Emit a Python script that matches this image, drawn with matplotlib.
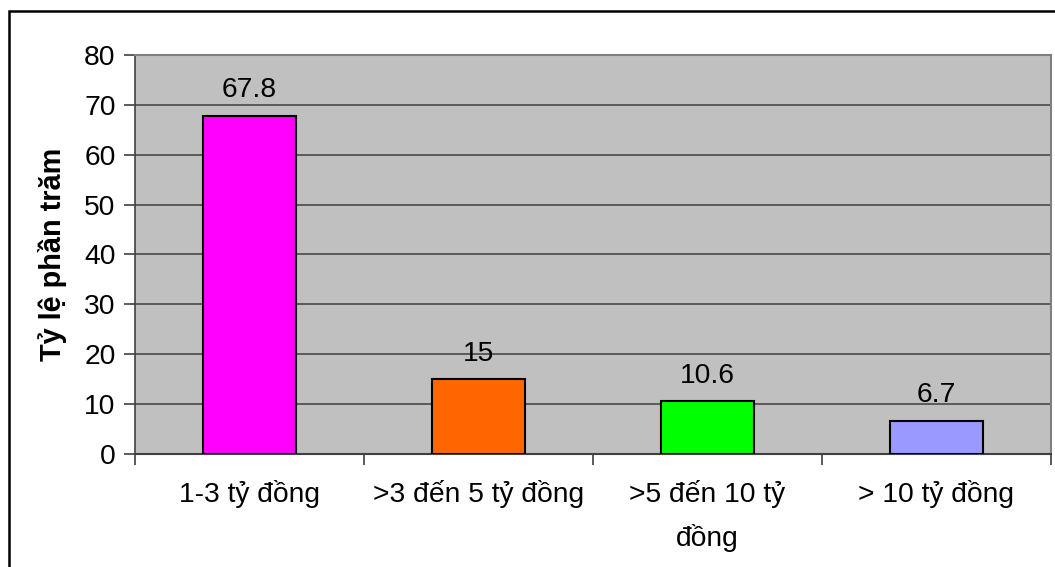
import matplotlib
matplotlib.use("Agg")
import matplotlib.pyplot as plt
from matplotlib.patches import Rectangle

categories = ["1-3 tỷ đồng", ">3 đến 5 tỷ đồng", ">5 đến 10 tỷ\nđồng", "> 10 tỷ đồng"]
values = [67.8, 15, 10.6, 6.7]
value_labels = ["67.8", "15", "10.6", "6.7"]
colors = ["#FF00FF", "#FF6600", "#00FF00", "#9999FF"]
yticks = [0, 10, 20, 30, 40, 50, 60, 70, 80]

plt.rcParams["font.family"] = ["Liberation Sans", "DejaVu Sans"]
fs = 20.3

fig = plt.figure(figsize=(10.55, 5.67), dpi=100)
ax = fig.add_axes([135 / 1055, 113 / 567, 916 / 1055, 399 / 567])
ax.set_facecolor("#C0C0C0")

x = list(range(len(categories)))
bars = ax.bar(x, values, width=0.41, color=colors, edgecolor="black", linewidth=1.5, zorder=3)

for b, lab in zip(bars, value_labels):
    ax.annotate(lab, (b.get_x() + b.get_width() / 2, b.get_height()),
                xytext=(0, 9), textcoords="offset points",
                ha="center", va="bottom", fontsize=fs, zorder=4)

ax.set_xlim(-0.5, len(categories) - 0.5)
ax.set_ylim(0, 80)
ax.set_yticks(yticks)
ax.yaxis.grid(True, color="#484848", linewidth=1.2, zorder=1)
ax.set_axisbelow(True)

# category ticks sit between the bars
ax.set_xticks([i - 0.5 for i in range(len(categories) + 1)], minor=False)
ax.set_xticklabels([])
ax.set_xticks(x, minor=True)
ax.set_xticklabels(categories, minor=True, fontsize=fs, linespacing=1.7)
ax.tick_params(axis="x", which="minor", length=0, pad=19)
ax.tick_params(axis="x", which="major", length=8, width=1.2, color="#404040", direction="out")
ax.tick_params(axis="y", length=8, width=1.2, color="#404040", labelsize=fs, pad=6)

for side in ["top", "right"]:
    ax.spines[side].set_color("#808080")
    ax.spines[side].set_linewidth(1.5)
ax.spines["left"].set_color("#404040")
ax.spines["bottom"].set_color("#404040")
ax.spines["left"].set_linewidth(1.2)
ax.spines["bottom"].set_linewidth(1.5)

ax.set_ylabel("Tỷ lệ phần trăm", fontsize=20.8, fontweight="bold", labelpad=12)

# outer chart border
fig.patches.append(Rectangle((9 / 1055, -0.1), 1.2, (567 - 11) / 567 + 0.1,
                             transform=fig.transFigure, fill=False,
                             edgecolor="black", linewidth=1.8))

fig.savefig("out.png", dpi=100)
plt.close(fig)
